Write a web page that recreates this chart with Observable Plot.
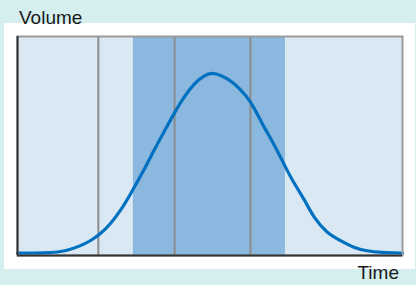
<!DOCTYPE html>
<html>
<head>
<meta charset="utf-8">
<script src="https://cdn.jsdelivr.net/npm/d3@7"></script>
<script src="https://cdn.jsdelivr.net/npm/@observablehq/plot@0.6"></script>
<style>
  html, body { margin: 0; padding: 0; }
  body { width: 416px; height: 285px; background: #d5eeee; position: relative; overflow: hidden;
         font-family: "Liberation Sans", Arial, sans-serif; color: #1a1a1a; }
  #panel { position: absolute; left: 4px; top: 23px; width: 411px; height: 246px; background: #ffffff; }
  #chart { position: absolute; left: 0; top: 0; }
  .lbl { position: absolute; font-size: 19px; line-height: 19px; white-space: nowrap; }
  #ylab { left: 19px; top: 8px; }
  #xlab { right: 17px; top: 263px; }
</style>
</head>
<body>
<div id="panel"></div>
<div id="chart"></div>
<div class="lbl" id="ylab">Volume</div>
<div class="lbl" id="xlab">Time</div>
<script>
// Curve samples (time 0–100, volume 0–100)
const times   = [0, 7.3, 10.6, 12.5, 16.4, 19.0, 21.6, 24.2, 26.8, 29.4, 32.8, 35.4, 38.0, 40.6, 43.2, 45.8, 48.4, 50.6, 52.7, 56.2, 59.7, 61.4, 64.0, 66.6, 69.6, 71.9, 74.4, 77.0, 80.4, 83.9, 87.4, 90.8, 94.3, 100];
const volumes = [1.1, 1.1, 1.6, 2.1, 4.4, 6.7, 9.9, 14.5, 20.5, 28.2, 38.8, 47.9, 56.3, 64.7, 72.3, 78.4, 82.2, 83.6, 82.4, 79.1, 72.3, 67.7, 58.6, 51.0, 40.3, 32.7, 26.0, 17.0, 10.2, 6.8, 3.5, 2.0, 1.4, 1.1];
// Vertical divider times
const dividers = [21, 40.8, 60.5];
// Highlighted band
const bandStart = [30.1];
const bandEnd = [69.6];

const curve = times.map((t, i) => ({t, v: volumes[i]}));
const bands = bandStart.map((s, i) => ({s, e: bandEnd[i]}));

const chart = Plot.plot({
  width: 416,
  height: 285,
  marginLeft: 17,
  marginRight: 14,
  marginTop: 36,
  marginBottom: 30,
  style: {background: "transparent", overflow: "visible"},
  x: {domain: [0, 100], axis: null},
  y: {domain: [0, 100], axis: null},
  marks: [
    Plot.frame({fill: "#dae8f4", stroke: null}),
    Plot.rect(bands, {x1: "s", x2: "e", fill: "#8bb8df"}),
    Plot.ruleX(dividers, {stroke: "#8c8c8c", strokeWidth: 2}),
    Plot.line(curve, {x: "t", y: "v", stroke: "#0070c0", strokeWidth: 3.2, curve: "basis"}),
    Plot.frame({stroke: "#9a9a9a", strokeWidth: 2}),
    Plot.ruleX([0], {stroke: "#333333", strokeWidth: 2}),
    Plot.ruleY([0], {stroke: "#333333", strokeWidth: 2})
  ]
});
document.getElementById("chart").appendChild(chart);
</script>
</body>
</html>
